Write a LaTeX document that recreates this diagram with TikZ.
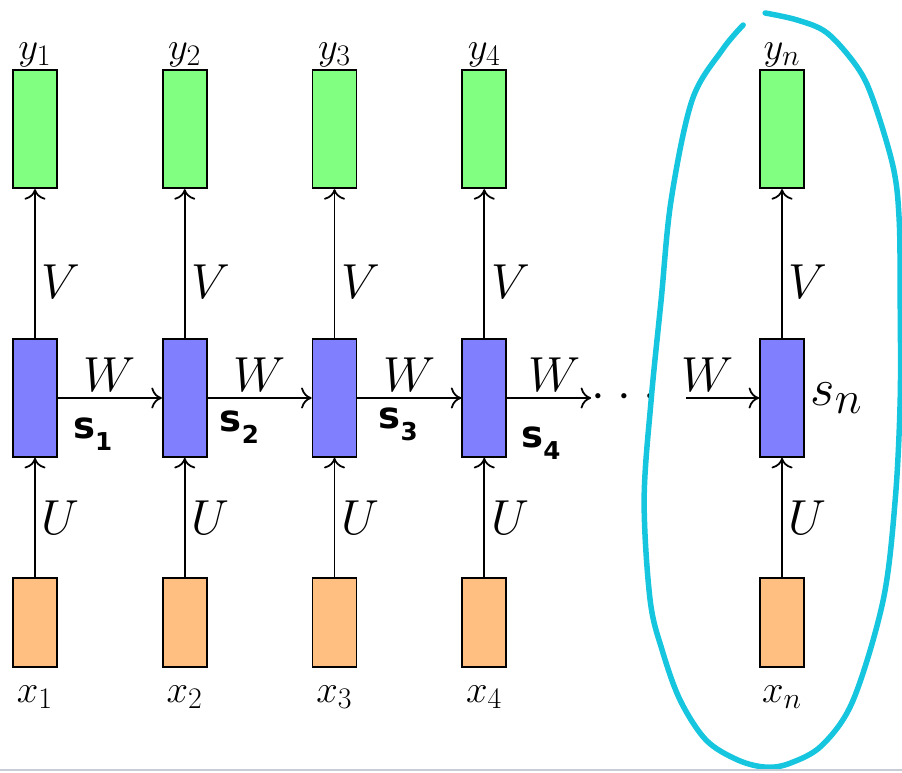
\RequirePackage{fix-cm}
\documentclass[tikz,border=0pt]{standalone}
\usepackage{amsmath}
\usepackage{fontspec}
\usepackage{xcolor}
\usetikzlibrary{arrows.meta, positioning}
% letra "à mão" para as anotações s_1..s_4 escritas por cima
\newfontfamily\mao{DejaVu Sans}
\definecolor{marcador}{RGB}{22,197,222}
\definecolor{rodape}{RGB}{200,204,214}
% índices quase do tamanho da letra, como nos rótulos grandes
\DeclareMathSizes{22}{22}{17}{13}
\DeclareMathSizes{30}{30}{26}{20}

\begin{document}
\begin{tikzpicture}[node distance=2.08cm]
    \tikzstyle{estado} = [rectangle, draw=black, line width=1pt, fill=blue!50,
        minimum width=0.88cm, minimum height=2.36cm, inner sep=0pt]
    \tikzstyle{saida} = [estado, fill=green!50]
    \tikzstyle{entrada} = [estado, fill=orange!50, minimum height=1.78cm]
    \tikzstyle{arrow} = [line width=1pt, -{To[length=6pt,width=12pt]}]
    \tikzstyle{peso} = [font=\fontsize{28}{32}\selectfont]
    \tikzstyle{rotulo} = [font=\fontsize{22}{26}\selectfont, inner sep=1pt]
    \tikzstyle{anota} = [font=\mao\bfseries\fontsize{21}{24}\selectfont,
        inner sep=0pt]

    \useasboundingbox (0,0) rectangle (18.04,-15.44);

    % Estados escondidos: a linha do meio manda em tudo, as saídas e as
    % entradas ficam penduradas por cima e por baixo de cada estado.
    \node (h1) [estado] at (0.70,-7.96) {};
    \node (h2) [estado, right=of h1] {};
    \node (h3) [estado, right=of h2] {};
    \node (h4) [estado, right=of h3] {};
    \node (hn) [estado, right=5.04cm of h4] {};

    \node (y1) [saida, above=2.98cm of h1] {};
    \node (y2) [saida, above=2.98cm of h2] {};
    \node (y3) [saida, above=2.98cm of h3] {};
    \node (y4) [saida, above=2.98cm of h4] {};
    \node (yn) [saida, above=2.98cm of hn] {};

    \node (x1) [entrada, below=2.38cm of h1] {};
    \node (x2) [entrada, below=2.38cm of h2] {};
    \node (x3) [entrada, below=2.38cm of h3] {};
    \node (x4) [entrada, below=2.38cm of h4] {};
    \node (xn) [entrada, below=2.38cm of hn] {};

    \node (ly1) [rotulo, above=0pt of y1] {$y_1$};
    \node (ly2) [rotulo, above=0pt of y2] {$y_2$};
    \node (ly3) [rotulo, above=0pt of y3] {$y_3$};
    \node (ly4) [rotulo, above=0pt of y4] {$y_4$};
    \node (lyn) [rotulo, above=0pt of yn] {$y_n$};

    \node (lx1) [rotulo, below=0.32cm of x1] {$x_1$};
    \node (lx2) [rotulo, below=0.32cm of x2] {$x_2$};
    \node (lx3) [rotulo, below=0.32cm of x3] {$x_3$};
    \node (lx4) [rotulo, below=0.32cm of x4] {$x_4$};
    \node (lxn) [rotulo, below=0.32cm of xn] {$x_n$};

    \node (sn) [font=\fontsize{30}{34}\selectfont, inner sep=3pt,
        right=0pt of hn] {$s_n$};

    \draw [arrow] (x1) -- node[peso, right] (u1) {$U$} (h1);
    \draw [arrow] (x2) -- node[peso, right] (u2) {$U$} (h2);
    \draw [arrow] (x3) -- node[peso, right] (u3) {$U$} (h3);
    \draw [arrow] (x4) -- node[peso, right] (u4) {$U$} (h4);
    \draw [arrow] (xn) -- node[peso, right] (un) {$U$} (hn);

    \draw [arrow] (h1) -- node[peso, right, pos=0.38] (v1) {$V$} (y1);
    \draw [arrow] (h2) -- node[peso, right, pos=0.38] (v2) {$V$} (y2);
    \draw [arrow] (h3) -- node[peso, right, pos=0.38] (v3) {$V$} (y3);
    \draw [arrow] (h4) -- node[peso, right, pos=0.38] (v4) {$V$} (y4);
    \draw [arrow] (hn) -- node[peso, right, pos=0.38] (vn) {$V$} (yn);

    \draw [arrow] (h1) -- node[peso, above] (w1) {$W$} (h2);
    \draw [arrow] (h2) -- node[peso, above] (w2) {$W$} (h3);
    \draw [arrow] (h3) -- node[peso, above] (w3) {$W$} (h4);

    % a cadeia interrompe-se nos pontos e retoma antes do último estado
    \node (pontos) [peso, inner sep=0pt, right=1.68cm of h4]
        {$\mathord{\cdot}\kern0.25em\mathord{\cdot}\kern0.25em\mathord{\cdot}$};
    \draw [arrow] (h4) -- node[peso, above, pos=0.56] (w4) {$W$} (pontos);
    \coordinate [left=1.46cm of hn] (retoma);
    \draw [arrow] (retoma) -- node[peso, above, pos=0.3] (wn) {$W$} (hn);

    % anotações à mão por baixo das setas W
    \node (s1) [anota, below right=0.38cm and 0.3cm of h1.east]
        {s\raisebox{-0.35em}{\fontsize{14}{14}\selectfont 1}};
    \node (s2) [anota, below right=0.24cm and 0.24cm of h2.east]
        {s\raisebox{-0.35em}{\fontsize{14}{14}\selectfont 2}};
    \node (s3) [anota, below right=0.18cm and 0.42cm of h3.east]
        {s\raisebox{-0.35em}{\fontsize{14}{14}\selectfont 3}};
    \node (s4) [anota, below right=0.56cm and 0.28cm of h4.east]
        {s\raisebox{-0.35em}{\fontsize{14}{14}\selectfont 4}};

    % contorno a marcador à volta da última coluna (coordenadas em píxeis)
    \begin{scope}[x=0.02cm, y=-0.02cm]
        \draw [marcador, line width=0.11cm, line cap=round]
            plot [smooth, tension=0.55] coordinates {(765,13) (797,20)
            (827,33) (857,67) (873,100) (893,167) (899,220) (900,300)
            (900,400) (895,500) (883,600) (853,700) (822,745) (790,763)
            (766,767) (738,760) (706,740) (680,700) (662,650) (650,600)
            (644,500) (651,400) (661,300) (671,200) (692,100) (722,50)
            (743,25)};
        \draw [rodape, line width=1pt] (0,770) -- (902,770);
    \end{scope}
\end{tikzpicture}
\end{document}
